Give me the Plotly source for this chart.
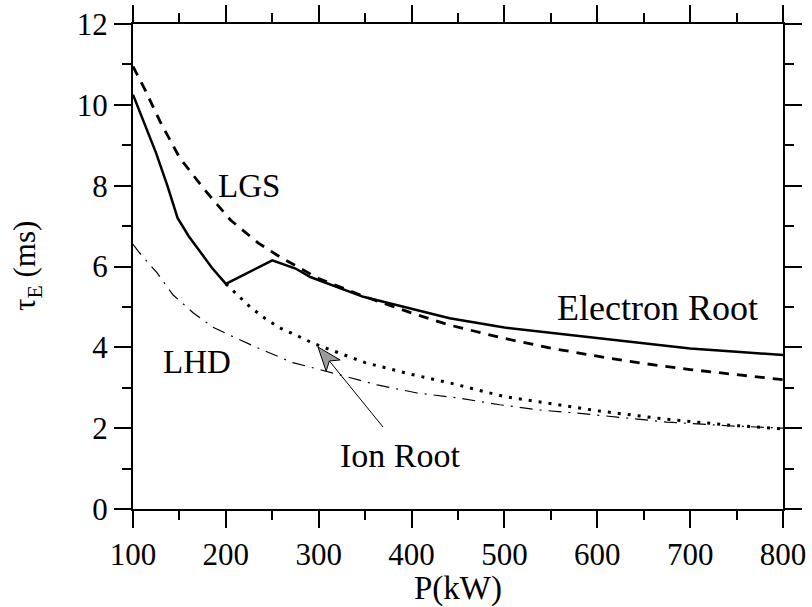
import plotly.graph_objects as go

# Energy confinement time versus heating power
p_electron = [100, 112, 125, 137, 148, 160, 172, 185, 200, 250, 275, 291, 348, 400, 441, 500, 549, 602, 650, 700, 750, 800]
tau_electron = [10.25, 9.55, 8.8, 8.0, 7.2, 6.75, 6.38, 5.97, 5.57, 6.15, 5.95, 5.74, 5.25, 4.95, 4.72, 4.49, 4.36, 4.23, 4.1, 3.97, 3.89, 3.81]

p_ion = [200, 213, 226, 242, 258, 270, 294, 350, 400, 441, 500, 546, 600, 675, 740, 800]
tau_ion = [5.57, 5.28, 5.0, 4.72, 4.48, 4.36, 4.1, 3.62, 3.33, 3.12, 2.78, 2.62, 2.43, 2.22, 2.08, 1.98]

p_lgs = [100, 113, 130, 150, 177, 205, 235, 258, 300, 350, 400, 441, 500, 550, 600, 650, 700, 750, 800]
tau_lgs = [10.95, 10.37, 9.55, 8.7, 7.9, 7.15, 6.58, 6.24, 5.7, 5.25, 4.85, 4.55, 4.22, 3.98, 3.78, 3.6, 3.45, 3.32, 3.2]

p_lhd = [100, 107, 126, 143, 165, 186, 208, 233, 272, 298, 363, 406, 449, 495, 538, 584, 675, 740, 800]
tau_lhd = [6.55, 6.34, 5.84, 5.3, 4.85, 4.5, 4.26, 4.0, 3.62, 3.47, 3.07, 2.87, 2.75, 2.58, 2.45, 2.36, 2.15, 2.06, 2.0]

x_ticks = [100, 200, 300, 400, 500, 600, 700, 800]
y_ticks = [0, 2, 4, 6, 8, 10, 12]

W, H = 812, 607
ML, MR, MT, MB = 133, 29, 24, 98
XR, YR = (100, 800), (0, 12)
FONT = "Liberation Serif"


def px_to_x(px):
    return XR[0] + (px - ML) / (W - ML - MR) * (XR[1] - XR[0])


def py_to_y(py):
    return YR[0] + (H - MB - py) / (H - MT - MB) * (YR[1] - YR[0])


fig = go.Figure()
fig.add_trace(go.Scatter(x=p_lhd, y=tau_lhd, mode="lines",
                         line=dict(color="black", width=1.2, dash="13px,7px,2px,7px")))
fig.add_trace(go.Scatter(x=p_lgs, y=tau_lgs, mode="lines",
                         line=dict(color="black", width=2.8, dash="10px,8px")))
fig.add_trace(go.Scatter(x=p_ion, y=tau_ion, mode="lines",
                         line=dict(color="black", width=3, dash="3px,7px")))
fig.add_trace(go.Scatter(x=p_electron, y=tau_electron, mode="lines",
                         line=dict(color="black", width=2.5)))

# pointer from the "Ion Root" label to the dotted branch
tip = (318, 347)
tail = (383, 427)
dx, dy = tail[0] - tip[0], tail[1] - tip[1]
n = (dx * dx + dy * dy) ** 0.5
ux, uy = dx / n, dy / n
vx, vy = -uy, ux
head_len, half_w, notch = 24, 9, 6
b1 = (tip[0] + ux * head_len + vx * half_w, tip[1] + uy * head_len + vy * half_w)
b2 = (tip[0] + ux * head_len - vx * half_w, tip[1] + uy * head_len - vy * half_w)
nb = (tip[0] + ux * (head_len - notch), tip[1] + uy * (head_len - notch))

fig.add_shape(type="line", x0=px_to_x(nb[0]), y0=py_to_y(nb[1]),
              x1=px_to_x(tail[0]), y1=py_to_y(tail[1]),
              line=dict(color="black", width=1))
pts = [tip, b1, nb, b2]
path = "M " + " L ".join(f"{px_to_x(a):.4f},{py_to_y(b):.4f}" for a, b in pts) + " Z"
fig.add_shape(type="path", path=path, fillcolor="#9c9c9c",
              line=dict(color="black", width=1))

labels = [("LGS", 249, 186, 33), ("LHD", 197, 362, 33), ("Ion Root", 400, 455, 34),
          ("Electron Root", 657, 308, 36)]
for txt, lx, ly, fs in labels:
    fig.add_annotation(x=px_to_x(lx), y=py_to_y(ly), text=txt, showarrow=False,
                       font=dict(family=FONT, size=fs, color="black"))

# y-axis title, rotated, placed left of the tick labels
fig.add_annotation(xref="paper", yref="paper", x=(27 - ML) / (W - ML - MR),
                   y=(H - MB - 266) / (H - MT - MB), text="τ<sub>E</sub> (ms)",
                   textangle=-90, showarrow=False, xanchor="center", yanchor="middle",
                   font=dict(family=FONT, size=31, color="black"))

axis_common = dict(showline=True, linecolor="black", linewidth=2, mirror="allticks",
                   ticks="outside", tickcolor="black", tickwidth=1.6, ticklen=17,
                   showgrid=False, zeroline=False, automargin=False,
                   tickfont=dict(family=FONT, size=31, color="black"))

fig.update_xaxes(range=list(XR), tickvals=x_ticks, ticktext=[str(v) for v in x_ticks],
                 minor=dict(ticks="outside", ticklen=9, tickwidth=1.6, tickcolor="black", dtick=50,
                            tick0=100, showgrid=False),
                 title=dict(text="P(kW)", font=dict(family=FONT, size=33, color="black"), standoff=12),
                 **axis_common)
fig.update_yaxes(range=list(YR), tickvals=y_ticks, ticktext=[str(v) for v in y_ticks],
                 minor=dict(ticks="outside", ticklen=9, tickwidth=1.6, tickcolor="black", dtick=1,
                            tick0=0, showgrid=False),
                 **axis_common)

fig.update_layout(width=W, height=H, margin=dict(l=ML, r=MR, t=MT, b=MB),
                  plot_bgcolor="white", paper_bgcolor="white", showlegend=False)

fig.write_html("out.html")
